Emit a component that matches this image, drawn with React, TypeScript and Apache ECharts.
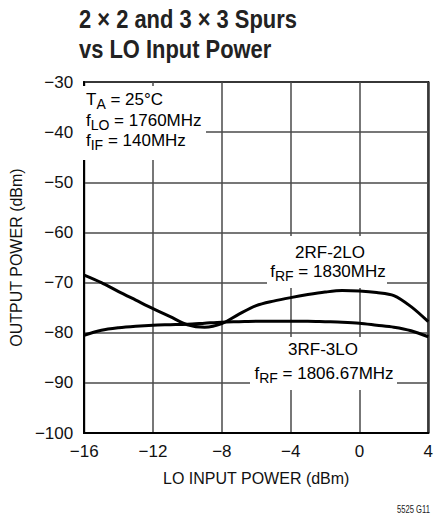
import React, { useEffect, useRef } from "react";
import * as echarts from "echarts";

const loPower = [-16, -15, -14, -13, -12, -11, -10, -9, -8, -7, -6, -5, -4, -3, -2, -1, 0, 1, 2, 3, 4];
const spur2x2 = [-68.5, -70.0, -71.8, -73.5, -75.2, -76.8, -78.4, -78.9, -78.2, -76.3, -74.6, -73.7, -73.0, -72.4, -71.9, -71.6, -71.7, -72.0, -72.6, -74.8, -77.8];
const spur3x3 = [-80.5, -79.5, -79.0, -78.7, -78.5, -78.4, -78.3, -78.1, -77.9, -77.8, -77.7, -77.7, -77.7, -77.7, -77.8, -77.9, -78.1, -78.5, -78.9, -79.6, -80.8];
const yTicks = { min: -100, max: -30, interval: 10 };
const xTicks = { min: -16, max: 4, interval: 4 };
const titleLines = ["2 \u00d7 2 and 3 \u00d7 3 Spurs", "vs LO Input Power"];

const FONT = "'Liberation Sans', Arial, Helvetica, sans-serif";
const minus = (v: number) => String(v).replace("-", "\u2212");

const rich = {
  m: { fontSize: 17, fontFamily: FONT, color: "#111", lineHeight: 20, verticalAlign: "top" as const },
  s: { fontSize: 14, fontFamily: FONT, color: "#111", padding: [6, 0, 0, 0], verticalAlign: "top" as const },
};
const sub = (a: string, s: string, b: string) => `{m|${a}}{s|${s}}{m|${b}}`;

function measure(text: string, font: string): number {
  const c = document.createElement("canvas").getContext("2d");
  if (!c) return 0;
  c.font = font;
  return c.measureText(text).width;
}

export default function App() {
  const ref = useRef<HTMLDivElement>(null);
  useEffect(() => {
    if (!ref.current) return;
    const chart = echarts.init(ref.current, null, { renderer: "svg" });
    const titleFont = `bold 26px ${FONT}`;
    const w1 = measure(titleLines[0], titleFont);
    const titleScale = w1 > 0 ? 218 / w1 : 0.84;
    const footFont = `10px ${FONT}`;
    const wf = measure("5525 G11", footFont);
    const footScale = wf > 0 ? 33 / wf : 0.72;

    const lineText = (t: string, x: number, y: number, align: "left" | "center") => ({
      type: "text",
      x,
      y,
      z: 3,
      style: { text: t, rich, align, verticalAlign: "top" },
    });

    chart.setOption({
      animation: false,
      backgroundColor: "#fff",
      grid: { left: 81, right: 3, top: 82, bottom: 86, show: true, borderColor: "#000", borderWidth: 2, backgroundColor: "transparent" },
      xAxis: {
        type: "value",
        min: xTicks.min,
        max: xTicks.max,
        interval: xTicks.interval,
        name: "LO INPUT POWER (dBm)",
        nameLocation: "middle",
        nameGap: 37,
        nameTextStyle: { fontSize: 16, fontFamily: FONT, color: "#111" },
        axisLine: { show: true, onZero: false, lineStyle: { color: "#000", width: 2 } },
        axisTick: { show: false },
        axisLabel: { fontSize: 17, fontFamily: FONT, color: "#111", margin: 10, formatter: minus },
        splitLine: { show: true, lineStyle: { color: "#4a4a4a", width: 1.5 } },
      },
      yAxis: {
        type: "value",
        min: yTicks.min,
        max: yTicks.max,
        interval: yTicks.interval,
        name: "OUTPUT POWER (dBm)",
        nameLocation: "middle",
        nameGap: 55,
        nameRotate: 90,
        nameTextStyle: { fontSize: 16, fontFamily: FONT, color: "#111" },
        axisLine: { show: true, onZero: false, lineStyle: { color: "#000", width: 2 } },
        axisTick: { show: false },
        axisLabel: { fontSize: 17, fontFamily: FONT, color: "#111", margin: 11, formatter: minus },
        splitLine: { show: true, lineStyle: { color: "#4a4a4a", width: 1.5 } },
      },
      series: [
        {
          name: "2RF-2LO",
          type: "line",
          smooth: 0.3,
          symbol: "none",
          z: 5,
          lineStyle: { color: "#000", width: 3 },
          data: loPower.map((x, i) => [x, spur2x2[i]]),
        },
        {
          name: "3RF-3LO",
          type: "line",
          smooth: 0.3,
          symbol: "none",
          z: 5,
          lineStyle: { color: "#000", width: 3 },
          data: loPower.map((x, i) => [x, spur3x3[i]]),
        },
      ],
      graphic: [
        {
          type: "text",
          x: 79,
          y: 4,
          scaleX: titleScale,
          style: {
            text: titleLines.join("\n"),
            font: titleFont,
            fill: "#222",
            lineHeight: 30,
            verticalAlign: "top",
          },
        },
        { type: "rect", shape: { x: 83, y: 86, width: 123, height: 74 }, style: { fill: "#fff" }, z: 1 },
        lineText(sub("T", "A", " = 25\u00b0C"), 86, 91, "left"),
        lineText(sub("f", "LO", " = 1760MHz"), 86, 111.5, "left"),
        lineText(sub("f", "IF", " = 140MHz"), 86, 132, "left"),
        { type: "rect", shape: { x: 267, y: 236, width: 120, height: 52 }, style: { fill: "#fff" }, z: 1 },
        lineText("{m|2RF-2LO}", 330, 244, "center"),
        lineText(sub("f", "RF", " = 1830MHz"), 328, 263, "center"),
        { type: "rect", shape: { x: 250, y: 337, width: 147, height: 53 }, style: { fill: "#fff" }, z: 1 },
        lineText("{m|3RF-3LO}", 323, 341, "center"),
        lineText(sub("f", "RF", " = 1806.67MHz"), 324, 364.5, "center"),
        {
          type: "text",
          x: 397,
          y: 505,
          scaleX: footScale,
          style: { text: "5525 G11", font: footFont, fill: "#222", verticalAlign: "top" },
        },
      ],
    });
    return () => chart.dispose();
  }, []);
  return <div ref={ref} style={{ width: 436, height: 519, position: "absolute", left: 0, top: 0 }} />;
}
